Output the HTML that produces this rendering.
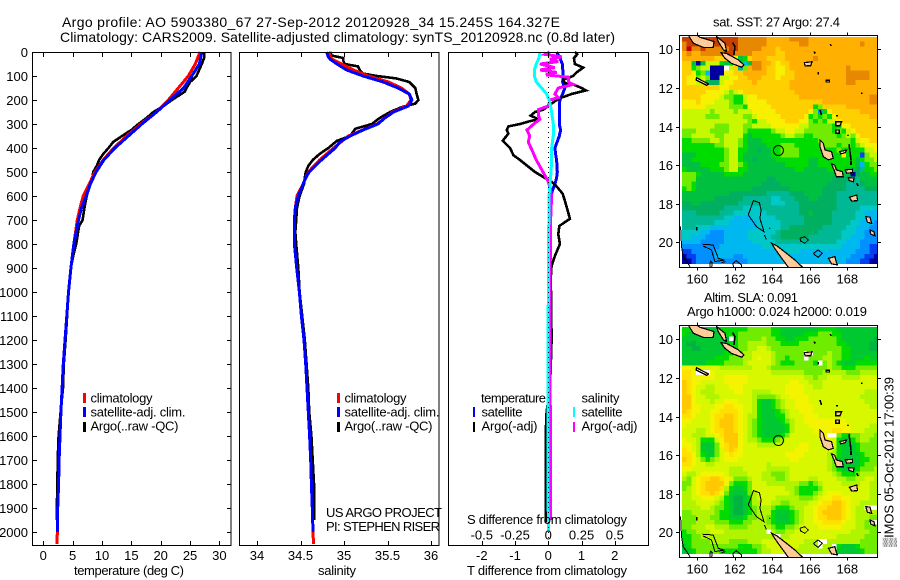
<!DOCTYPE html>
<html>
<head>
<meta charset="utf-8">
<title>Argo profile</title>
<style>
html,body{margin:0;padding:0;background:#fff;}
svg{display:block;}
text{font-family:"Liberation Sans",sans-serif;font-size:13px;fill:#000;}
.t{font-size:14px;}
</style>
</head>
<body>
<svg id="fig" width="900" height="580" viewBox="0 0 900 580" xmlns="http://www.w3.org/2000/svg" shape-rendering="crispEdges">
<defs>
<clipPath id="clipA"><rect x="680" y="35" width="197.5" height="232"/></clipPath>
<clipPath id="clipB"><rect x="680" y="325" width="197.5" height="232"/></clipPath>
</defs>
<rect width="900" height="580" fill="#fff"/>
<g id="maps"></g>
<g id="panels"></g>
<g id="ticks"></g>
<text class="t" x="62" y="27" textLength="498">Argo profile: AO 5903380_67 27-Sep-2012 20120928_34 15.245S 164.327E</text>
<text class="t" x="60" y="42" textLength="555">Climatology: CARS2009. Satellite-adjusted climatology: synTS_20120928.nc (0.8d later)</text>
<text x="74" y="575" textLength="110">temperature (deg C)</text>
<text x="318" y="575" textLength="38">salinity</text>
<text x="467" y="575" textLength="160">T difference from climatology</text>
<text x="467" y="524" textLength="160">S difference from climatology</text>
<text x="90.5" y="402.5" textLength="62">climatology</text>
<text x="90.5" y="416.5" textLength="95">satellite-adj. clim.</text>
<text x="90.5" y="430.5" textLength="88">Argo(..raw -QC)</text>
<text x="344.5" y="402.5" textLength="62">climatology</text>
<text x="344.5" y="416.5" textLength="95">satellite-adj. clim.</text>
<text x="344.5" y="430.5" textLength="88">Argo(..raw -QC)</text>
<text x="326" y="517" textLength="116">US ARGO PROJECT</text>
<text x="326" y="531" textLength="114">PI: STEPHEN RISER</text>
<text x="481" y="402.5" textLength="65">temperature</text>
<text x="581.5" y="402.5" textLength="38">salinity</text>
<text x="481.5" y="416.5" textLength="41">satellite</text>
<text x="481.5" y="430.5" textLength="56">Argo(-adj)</text>
<text x="581.5" y="416.5" textLength="41">satellite</text>
<text x="581.5" y="430.5" textLength="56">Argo(-adj)</text>
<rect x="83" y="393" width="3" height="10" fill="#f00"/>
<rect x="83" y="407" width="3" height="10" fill="#00f"/>
<rect x="83" y="422" width="3" height="10" fill="#000"/>
<rect x="337" y="393" width="3" height="10" fill="#f00"/>
<rect x="337" y="407" width="3" height="10" fill="#00f"/>
<rect x="337" y="422" width="3" height="10" fill="#000"/>
<rect x="473" y="407" width="2" height="10" fill="#00f"/>
<rect x="473" y="422" width="2" height="10" fill="#000"/>
<rect x="573" y="407" width="2" height="10" fill="#0ff"/>
<rect x="573" y="422" width="2" height="10" fill="#f0f"/>
<text x="713" y="26.5" textLength="127">sat. SST: 27 Argo: 27.4</text>
<text x="704" y="302" textLength="94">Altim. SLA: 0.091</text>
<text x="687" y="316" textLength="180">Argo h1000: 0.024 h2000: 0.019</text>
<text transform="translate(893.5,547) rotate(-90)" textLength="170">▒IMOS 05-Oct-2012 17:00:39</text>
</svg>
<script>
// ---------- depth axis ticks ----------
var depthTicks=[0,100,200,300,400,500,600,700,800,900,1000,1100,1200,1300,1400,1500,1600,1700,1800,1900,2000];
var tempTicks=[0,5,10,15,20,25,30];
var salTicks=[34,34.5,35,35.5,36];
var salTickLabels=["34","34.5","35","35.5","36"];
var tDiffTicks=[-2,-1,0,1,2];
var sDiffTicks=[-0.5,-0.25,0,0.25,0.5];
var sDiffTickLabels=["-0.5","-0.25","0","0.25","0.5"];
var lonTicks=[160,162,164,166,168];
var latTicks=[-10,-12,-14,-16,-18,-20];
// ---------- temperature profiles ----------
var tempClimDepth=[0,50,100,150,200,250,300,350,400,450,500,550,600,650,700,800,900,1000,1100,1200,1300,1400,1500,1600,1700,1800,1900,2000,2050];
var tempClim=[26.7,25.9,24.7,23,21.3,19.3,16.6,14.2,12,10.2,8.8,7.8,6.8,6.25,5.8,5.2,4.7,4.3,4,3.7,3.4,3.2,3,2.85,2.7,2.6,2.45,2.4,2.3];
var tempSatDepth=[0,50,100,150,200,250,300,350,400,450,500,550,600,650,700,750,800,900,1000,1100,1200,1300,1400,1500,1600,1700,1800,1900,2000];
var tempSat=[27,26.6,25.3,23.9,21.6,19.3,16.8,14.5,12.2,10.3,9,8,7.3,6.5,6,5.6,5.2,4.7,4.3,4,3.7,3.4,3.2,3,2.85,2.7,2.6,2.45,2.4];
var tempArgoDepth=[0,25,50,100,125,150,165,200,225,250,275,300,325,350,375,400,425,450,475,500,525,550,600,650,700,725,800,850,900,1000,1100,1200,1300,1400,1500,1600,1700,1800,1900,1950];
var tempArgo=[27.4,27.4,27,26.1,25,24.4,24.1,21.9,20.5,18.75,17.6,16.2,15,13.4,11.9,11.1,10.2,9.5,9.1,8.5,8.35,8,7.4,7,6.7,6.1,5.6,5.1,4.7,4.3,4.05,3.8,3.5,3.35,2.95,2.6,2.45,2.4,2.3,2.3];
// ---------- salinity profiles ----------
var salClimDepth=[0,30,50,75,100,125,150,175,200,225,250,300,350,400,450,500,550,600,650,700,800,900,1000,1100,1200,1300,1400,1500,1600,1700,1800,1900,2000,2050];
var salClim=[34.82,34.86,34.97,35.11,35.28,35.51,35.66,35.75,35.77,35.72,35.56,35.38,35.05,34.88,34.72,34.59,34.53,34.46,34.44,34.43,34.43,34.456,34.487,34.51,34.54,34.56,34.575,34.59,34.605,34.617,34.625,34.636,34.644,34.65];
var salSatDepth=[0,20,30,50,75,100,125,150,175,200,225,250,275,300,325,350,375,400,425,450,475,500,525,550,600,650,700,800,900,1000,1100,1200,1300,1400,1500,1600,1700,1800,1900,2000];
var salSat=[34.8,34.82,34.84,34.92,35.03,35.22,35.45,35.62,35.75,35.78,35.74,35.57,35.47,35.39,35.22,35.07,34.95,34.9,34.82,34.74,34.67,34.6,34.56,34.53,34.475,34.44,34.43,34.43,34.456,34.487,34.51,34.54,34.56,34.575,34.59,34.605,34.617,34.625,34.636,34.644];
var salArgoDepth=[0,15,25,35,50,60,75,90,100,110,125,150,175,200,215,230,250,275,300,320,350,370,400,425,450,475,500,525,550,600,650,700,750,800,900,1000,1200,1400,1500,1600,1700,1800,1900,1950];
var salArgo=[34.84,34.86,34.99,34.99,35.01,35.16,35.18,35.22,35.38,35.6,35.75,35.82,35.835,35.855,35.82,35.66,35.53,35.41,35.32,35.13,35.07,34.92,34.82,34.72,34.64,34.59,34.56,34.55,34.54,34.49,34.46,34.45,34.44,34.45,34.475,34.49,34.55,34.59,34.6,34.625,34.64,34.655,34.655,34.655];
// ---------- difference profiles ----------
var tDiffSatDepth=[0,25,50,100,125,150,175,200,225,300,325,350,400,425,450,500,525,550,575,600,700,800,900,1000,2000];
var tDiffSat=[0.25,0.35,0.42,0.45,0.43,0.5,0.43,0.35,0.33,0.33,0.37,0.33,0.2,0.22,0.25,0.27,0.25,0.2,0.13,0.08,0.05,0.03,0.02,0.01,0];
var tDiffArgoDepth=[0,10,25,50,65,85,100,115,130,135,150,160,175,190,205,225,240,250,265,280,290,300,310,325,340,370,400,430,450,500,525,540,560,590,620,670,695,725,760,800,850,890,950,1000,1200,1400,1500,1600,1700,1960];
var tDiffArgo=[0.8,0.87,0.77,0.8,1.05,0.85,0.75,0.45,0.5,0.75,1,1.13,0.7,0.4,0.2,0,-0.15,-0.4,-0.53,-0.3,-0.6,-0.85,-1.2,-1.25,-1.2,-1.37,-1.15,-1.05,-0.85,-0.4,-0.1,0.1,0.25,0.43,0.5,0.6,0.65,0.33,0.3,0.35,0.2,0.1,0.07,0.08,0.1,0.05,-0.05,-0.08,-0.08,-0.08];
var sDiffSatDepth=[0,25,50,75,100,125,150,175,200,225,250,300,350,400,450,500,550,600,800,1000,1400,2000];
var sDiffSat=[-0.0625,-0.07,-0.09,-0.105,-0.105,-0.09,-0.05,-0.0125,0.005,0.0175,0.025,0.0375,0.0375,0.025,0.025,0.02,0.0125,0.005,0.0025,0,-0.0025,0];
var sDiffArgoDepth=[0,10,20,30,40,50,65,75,85,95,105,125,135,150,175,190,200,225,240,265,280,300,325,350,375,400,425,450,500,540,575,600,700,1000,1300,1700,1950];
var sDiffArgo=[0.01,-0.025,0.1,0.0125,0.075,-0.0625,0.05,-0.0625,0.0625,-0.0175,0.15,0.15,0.1875,0.075,0.05,0.075,0.0125,0,-0.075,-0.075,-0.0625,-0.11,-0.16,-0.14,-0.15,-0.13,-0.11,-0.09,-0.04,0,0.0175,0.025,0.0175,0.0125,0.0125,0.0175,0.0175];
// ---------- Argo position ----------
var argoLon=164.327;
var argoLat=-15.245;
// ---------- SST colour classes (0 coldest ... 16 warmest, 17 no data) ----------
var sstColours=["#0000a0","#0040f0","#0090ff","#00b8f0","#00c8c8","#00b894","#00b060","#00c040","#00dc00","#70ec00","#c8f800","#f8f000","#ffd000","#ffb000","#e88800","#c84000","#c00000","#ffffff"];
var sstRows=[
[15,15,15,15,15,15,15,15,15,15,15,15,14,14,14,14,14,14,13,13,13,13,13,14,14,14,14,13,13,13,13,13,13,13,13,13,13,13,13,13,13,13],
[14,15,15,15,15,15,15,15,15,15,15,15,14,14,14,14,14,14,13,13,13,13,13,13,13,14,14,13,13,13,13,13,13,13,13,13,13,13,14,13,13,13],
[14,16,14,14,15,14,14,14,14,14,15,15,14,14,14,14,14,13,13,13,12,13,13,13,13,13,13,13,13,13,13,13,13,13,13,13,13,13,13,13,13,13],
[13,14,13,13,14,14,14,14,14,15,15,14,14,14,14,13,13,13,13,13,12,12,13,13,13,13,13,13,13,13,13,13,13,13,13,13,13,13,13,13,13,13],
[13,13,13,13,13,13,13,12,12,12,11,11,7,8,12,13,13,13,12,12,12,12,13,13,13,13,13,13,14,13,13,13,13,13,13,13,13,13,13,13,13,13],
[12,12,7,0,7,10,10,10,8,7,8,10,8,3,7,14,14,13,13,12,11,12,12,13,13,13,13,13,13,13,13,13,13,13,13,13,13,13,13,13,13,13],
[12,12,8,9,10,10,0,0,0,17,10,12,5,9,13,14,14,13,12,12,11,11,12,13,13,13,13,13,13,13,13,13,13,13,13,14,13,13,13,13,13,13],
[12,12,11,8,9,3,0,0,0,11,11,12,12,13,13,13,13,13,12,12,11,11,12,12,13,13,13,13,13,13,13,13,13,13,13,14,14,14,14,14,13,13],
[12,11,11,9,10,9,0,0,10,10,11,11,12,12,13,13,13,12,12,12,11,12,12,12,13,13,13,13,13,13,13,13,13,13,13,14,14,14,14,14,13,13],
[12,11,11,10,10,7,6,6,10,11,11,12,12,12,12,13,12,12,12,12,12,12,12,13,13,13,13,13,13,13,13,13,13,13,13,14,14,13,13,13,13,13],
[12,12,12,12,12,12,12,12,11,11,12,12,12,12,12,12,12,12,12,12,12,12,12,13,13,13,13,13,13,13,13,13,13,13,13,13,13,13,13,13,13,13],
[12,12,12,12,12,11,11,11,11,10,9,10,11,12,12,12,12,12,12,12,12,12,12,12,13,13,13,13,13,13,13,13,13,13,13,13,13,13,13,13,13,13],
[12,12,12,12,11,11,11,11,10,9,9,8,8,10,11,11,12,12,12,12,12,12,12,12,12,13,13,13,13,13,13,13,13,13,13,13,13,13,13,13,14,14],
[11,11,11,12,11,11,11,10,10,10,9,8,8,10,11,11,11,11,12,12,12,12,12,12,12,12,12,12,12,12,13,13,13,13,13,13,13,13,13,13,14,14],
[11,11,11,11,11,10,10,10,10,10,9,9,9,8,11,11,11,11,11,12,12,12,12,12,12,12,12,12,8,9,12,12,12,12,12,13,13,13,13,13,13,13],
[10,10,10,10,10,10,9,10,10,10,10,9,10,10,10,11,11,11,11,11,12,12,12,12,12,12,12,11,9,2,8,11,12,12,12,12,12,12,13,13,13,13],
[10,10,10,10,10,9,9,9,10,10,10,10,10,9,9,10,11,11,11,11,11,12,12,12,12,12,11,8,9,8,9,8,11,12,12,12,12,12,12,12,13,13],
[10,10,10,10,10,10,10,10,10,10,10,10,10,10,9,8,10,10,11,11,11,11,12,12,12,11,11,9,8,9,8,10,10,11,12,12,12,12,12,12,12,12],
[10,10,10,10,10,10,10,9,9,9,10,10,10,9,9,10,10,10,10,11,11,11,11,11,11,10,10,9,9,9,9,9,8,8,11,11,12,12,12,12,12,12],
[9,9,9,10,10,10,9,9,9,9,10,10,10,9,8,8,8,8,8,9,10,10,11,11,10,10,9,9,9,9,9,9,8,9,8,10,11,12,12,12,12,12],
[9,9,10,10,10,10,10,9,9,10,10,10,10,8,7,8,8,8,8,8,8,9,10,10,9,9,8,8,9,9,9,9,9,8,9,10,9,11,12,12,12,12],
[8,8,9,9,9,9,10,10,9,10,10,10,9,8,7,7,7,8,8,8,8,8,8,8,8,8,8,8,8,9,9,9,9,9,9,9,8,10,11,11,12,12],
[8,8,8,8,8,8,8,9,9,10,10,10,9,8,7,7,7,7,8,8,8,9,9,9,8,8,8,8,8,8,9,9,9,8,9,9,8,9,10,11,11,11],
[8,8,8,8,8,8,8,8,8,9,10,10,8,8,7,7,6,7,7,8,8,9,9,9,9,8,8,8,8,8,8,8,8,9,8,8,8,8,8,10,10,11],
[7,7,7,8,8,8,8,8,8,9,10,10,8,7,7,7,7,7,7,8,8,9,9,9,9,8,8,8,8,8,8,8,8,8,11,8,8,8,1,9,10,10],
[7,7,8,8,8,8,8,8,8,9,10,10,8,7,7,6,7,7,7,7,8,8,8,8,8,8,8,7,7,8,8,8,8,8,8,8,8,7,8,9,9,10],
[7,7,7,7,8,8,8,8,9,9,10,10,9,8,7,7,7,7,7,7,7,7,8,8,8,8,8,7,7,8,8,8,8,8,8,8,8,7,3,8,9,9],
[8,7,7,7,7,7,8,8,8,9,10,10,8,8,7,7,7,7,7,7,7,7,7,7,8,8,7,7,7,7,7,8,8,8,8,7,7,6,5,8,8,9],
[9,9,9,8,7,7,7,7,7,8,8,8,8,7,7,7,7,7,7,7,7,7,7,7,7,7,7,7,7,7,7,7,7,7,7,7,0,6,7,7,8,8],
[9,9,9,7,7,7,7,7,7,7,7,7,7,7,7,7,7,7,6,6,7,7,7,7,7,7,7,7,7,7,7,7,6,6,6,6,6,5,7,7,7,7],
[9,9,8,7,7,7,7,7,7,7,7,7,7,7,7,7,7,6,6,6,6,7,7,7,7,7,7,7,7,7,7,6,6,6,6,5,5,5,6,7,7,7],
[8,9,8,7,7,7,7,7,7,7,7,7,7,7,7,6,6,6,6,6,6,6,6,7,7,7,7,7,7,7,6,6,6,6,6,5,5,5,5,6,6,6],
[7,7,7,7,7,7,7,7,7,7,6,6,6,6,6,6,6,6,5,5,5,5,5,6,6,6,7,7,7,7,6,6,6,5,5,5,5,5,5,5,5,5],
[7,7,7,7,7,7,7,6,6,6,6,6,6,5,5,5,5,5,5,4,4,5,5,5,6,6,6,7,7,6,6,6,6,5,5,5,5,5,5,5,5,5],
[6,6,7,7,6,6,6,6,6,6,6,6,5,5,5,5,5,5,5,4,4,4,5,5,5,6,6,6,6,6,6,6,6,5,5,5,5,5,5,5,5,5],
[6,6,6,6,6,6,6,6,6,5,5,5,5,4,4,4,4,5,5,5,5,5,5,5,5,6,6,6,6,6,6,6,6,5,5,5,5,5,4,4,4,4],
[5,5,5,6,6,6,6,6,5,5,5,4,4,4,4,4,4,4,5,5,5,5,5,5,5,6,6,7,6,6,6,6,5,5,5,5,5,4,4,3,3,3],
[5,5,5,5,5,5,5,5,5,4,4,3,3,3,3,4,4,4,4,4,5,5,5,5,5,5,6,6,6,6,6,6,5,5,5,5,5,4,4,3,3,3],
[5,5,5,5,5,5,5,4,4,4,3,3,3,3,3,3,4,4,4,4,4,5,5,5,5,5,6,6,6,6,6,6,5,5,5,5,4,4,3,3,3,2],
[5,5,5,4,4,4,3,3,3,3,3,3,3,3,3,3,4,4,4,4,4,5,5,6,6,6,6,6,6,6,5,5,5,5,5,4,4,3,3,3,2,2],
[4,4,4,4,3,3,2,2,2,3,3,3,3,3,4,4,4,4,4,4,5,6,6,6,6,6,6,6,6,5,5,5,5,5,4,4,4,3,3,2,2,2],
[4,4,3,3,3,2,2,2,2,3,3,3,3,3,4,4,4,4,4,5,5,6,6,6,6,6,6,5,5,5,5,5,5,5,4,4,3,3,3,2,2,2],
[3,3,3,3,2,2,2,2,2,3,3,3,3,3,3,4,4,4,4,4,5,5,5,5,5,5,5,5,5,5,5,5,5,4,4,3,3,3,2,2,2,2],
[2,2,2,2,2,2,2,2,3,3,3,3,3,3,3,3,3,4,4,4,4,4,4,4,4,4,4,4,4,4,4,4,4,4,3,3,3,3,2,2,1,1],
[1,1,2,2,2,2,2,3,3,3,3,3,3,3,3,3,3,3,3,3,3,3,4,4,4,3,3,3,3,3,3,3,3,3,3,3,3,2,2,2,1,1],
[0,1,1,2,2,2,2,3,3,3,3,2,2,3,3,3,3,3,3,3,3,3,3,3,3,3,3,3,3,3,3,3,3,3,3,3,2,2,2,1,1,0],
[0,0,1,2,2,2,2,2,2,2,2,2,2,2,3,3,3,3,3,3,3,3,3,3,3,3,3,3,3,3,3,3,3,3,3,2,2,2,1,1,0,0]
];
// ---------- SLA colour classes (0 lowest ... 8 highest, 9 no data) ----------
var slaColours=["#00b440","#00c830","#00dc00","#70ec00","#b0f400","#d8f800","#f4f400","#ffe000","#ffc800","#ffffff"];
var slaRows=[
[2,2,1,1,1,1,1,1,2,2,2,2,2,2,3,3,3,3,3,2,2,1,1,1,1,1,1,1,1,2,2,2,2,1,1,1,1,1,1,1,1,1],
[2,1,1,1,1,1,1,1,1,2,2,2,3,3,3,3,3,3,3,2,2,1,1,1,1,1,2,2,2,3,3,3,2,2,1,1,1,1,1,1,1,1],
[1,1,1,1,1,1,1,1,1,0,9,2,3,3,3,3,3,4,3,3,2,2,1,1,2,2,2,3,3,3,3,3,3,2,1,1,1,1,1,1,1,0],
[1,0,0,1,1,1,1,1,1,1,2,2,3,3,4,4,4,4,3,3,3,2,2,2,2,3,3,3,3,3,3,3,3,2,2,1,1,1,1,1,0,0],
[1,1,0,0,1,1,1,1,1,1,2,2,3,3,4,4,5,5,4,3,3,3,3,3,3,3,3,3,3,3,3,3,3,3,2,2,1,1,1,1,0,0],
[1,1,1,1,1,1,1,1,1,2,2,3,3,4,4,5,5,5,5,4,3,3,3,3,3,3,9,9,3,3,3,4,3,3,2,2,1,1,1,1,1,1],
[1,1,1,1,1,1,1,2,2,2,3,3,3,4,4,5,6,5,5,4,3,3,2,3,3,3,9,3,3,3,4,4,3,3,2,2,1,1,1,2,1,1],
[1,1,1,1,1,2,2,2,2,3,3,3,3,4,5,5,5,5,5,4,3,2,2,2,3,3,3,3,2,9,3,4,3,2,1,1,1,2,2,2,2,2],
[6,6,5,5,5,5,5,5,4,4,4,4,4,4,4,5,5,5,4,3,3,3,3,3,3,3,3,3,3,3,3,4,3,3,2,2,2,3,3,3,3,3],
[7,7,6,9,9,9,6,5,5,5,5,5,5,5,5,5,5,5,5,4,4,4,4,4,4,4,3,3,3,3,4,4,4,4,4,3,3,3,4,4,4,4],
[7,7,6,6,6,6,6,5,5,6,6,6,6,6,5,5,5,5,5,5,5,5,5,5,5,5,4,4,3,4,4,5,5,5,4,4,4,4,5,5,5,5],
[8,7,6,6,5,5,5,5,5,6,6,6,6,6,5,5,5,5,5,5,5,5,5,6,6,5,5,4,4,4,5,5,5,5,5,5,5,5,5,5,5,5],
[8,7,6,5,5,4,4,5,5,5,6,6,6,5,5,5,5,5,5,5,5,5,6,6,6,6,5,5,4,4,5,5,5,5,5,5,5,5,5,5,5,5],
[8,7,6,5,4,4,4,5,5,5,5,6,6,5,5,4,4,4,4,5,5,5,6,6,6,6,5,5,5,5,5,5,5,5,5,5,5,5,5,4,4,4],
[8,8,6,5,5,4,4,4,5,5,5,5,5,5,5,4,3,3,3,3,4,5,5,6,6,6,6,5,5,5,5,5,5,5,5,5,5,5,4,4,4,4],
[8,8,6,5,5,5,4,5,5,6,6,6,5,5,5,4,2,1,1,2,3,4,5,5,6,6,6,5,5,5,5,5,5,5,5,5,5,5,5,4,4,4],
[8,8,6,6,5,5,5,6,6,7,7,6,6,5,5,4,2,1,1,2,3,4,5,5,6,6,6,6,5,5,5,5,5,5,5,5,5,5,5,5,4,4],
[8,7,6,6,5,5,6,6,7,7,7,7,6,5,5,4,2,1,1,1,2,3,4,5,5,6,6,6,5,5,5,5,5,5,5,5,5,5,5,5,5,5],
[7,7,6,5,5,5,6,7,7,8,8,7,6,5,4,4,2,1,1,1,2,2,4,5,5,5,6,6,6,5,5,5,5,5,5,5,5,5,5,5,5,5],
[6,6,5,5,5,5,6,7,8,8,8,7,6,5,4,3,2,1,1,1,1,2,3,4,5,5,6,6,6,6,6,6,6,6,6,5,5,5,5,5,5,5],
[6,5,5,5,5,5,6,7,8,8,8,7,6,5,4,3,2,1,1,1,1,1,2,4,5,5,5,6,6,6,6,6,6,6,6,6,5,5,5,5,4,4],
[5,5,5,4,4,5,6,7,7,8,8,7,6,5,4,3,2,1,1,1,1,1,2,4,5,5,5,5,6,6,6,6,7,7,6,6,5,5,5,4,4,4],
[5,5,4,4,4,5,5,6,7,8,8,8,6,5,4,3,2,1,1,1,1,2,3,5,5,5,5,5,5,6,6,9,9,3,2,2,3,3,4,4,4,3],
[6,5,5,4,2,2,2,5,6,8,8,8,6,5,4,4,3,2,2,2,3,4,5,5,5,5,5,5,5,5,6,6,5,2,1,1,2,3,4,4,3,3],
[6,6,5,4,1,1,1,3,6,7,8,8,6,5,5,5,4,4,4,4,5,5,5,5,5,6,6,5,5,5,5,5,5,2,1,1,1,2,3,3,3,3],
[7,6,5,4,1,1,1,3,5,7,8,7,6,5,5,5,5,5,5,5,5,5,5,5,6,6,6,5,5,5,5,5,4,2,1,1,1,2,3,3,3,3],
[7,7,6,4,2,1,1,3,5,6,7,6,6,5,5,5,5,5,5,5,5,5,6,6,6,6,5,5,5,5,5,4,4,2,1,1,1,1,2,3,3,3],
[8,7,6,5,3,2,3,4,5,6,6,6,5,5,5,5,5,5,5,5,5,5,5,6,6,5,5,5,5,5,5,4,3,1,1,1,1,1,2,2,3,3],
[7,7,6,5,5,4,4,5,5,5,5,5,5,5,5,5,5,5,4,5,5,5,5,5,5,5,5,5,5,5,5,4,3,1,1,1,1,1,2,3,3,3],
[6,6,5,5,5,5,5,5,5,5,4,4,4,5,5,5,5,5,4,4,4,4,4,5,5,5,5,5,5,5,5,4,3,2,1,1,1,2,3,3,3,4],
[5,4,4,5,6,6,6,6,6,5,4,4,4,4,5,5,5,4,4,3,3,3,4,5,5,5,5,5,5,5,5,5,4,3,2,2,2,3,4,4,4,4],
[4,3,5,6,7,7,8,8,7,6,5,3,3,3,4,5,5,4,4,4,3,3,4,5,5,5,5,4,4,5,5,5,5,4,4,3,3,4,4,5,5,4],
[3,3,5,6,7,8,8,8,8,6,3,2,2,2,3,5,5,5,4,4,4,4,4,4,4,3,3,2,3,4,5,5,5,5,4,4,4,4,5,5,4,4],
[3,4,5,6,7,8,8,8,7,4,2,1,1,2,3,5,5,5,5,5,5,5,4,4,3,2,2,2,2,3,5,5,5,5,5,5,5,5,5,5,4,4],
[4,4,5,6,7,7,8,7,6,3,1,1,1,1,3,4,5,5,5,5,5,5,5,4,3,2,2,2,3,4,5,6,6,6,5,5,5,5,5,5,4,4],
[4,4,5,5,6,6,6,5,4,2,1,0,0,1,2,4,5,5,5,5,4,4,4,4,4,3,3,3,4,5,6,6,7,7,6,6,5,5,5,5,4,4],
[4,4,4,5,5,5,5,4,3,2,1,0,0,1,2,4,4,5,5,4,4,3,3,4,4,4,4,5,5,6,7,7,8,8,7,6,5,5,4,4,4,4],
[4,4,4,4,5,5,4,3,3,2,1,0,0,1,2,3,4,4,4,3,2,2,2,3,4,4,5,5,6,7,7,8,8,8,7,6,5,4,4,9,9,9],
[3,3,4,4,4,4,4,3,2,2,1,0,0,1,2,3,4,4,4,2,1,1,1,2,3,4,5,5,6,7,8,8,8,8,7,6,5,4,4,4,4,4],
[3,3,3,4,4,4,3,3,2,2,1,1,1,2,3,3,4,4,3,2,1,1,1,2,3,4,5,5,6,7,7,8,8,8,7,6,5,4,4,4,3,3],
[3,3,3,4,4,4,4,3,3,3,2,2,2,3,3,4,4,4,3,2,1,1,1,2,3,4,5,5,6,6,7,7,7,7,6,5,5,4,4,3,9,9],
[3,3,4,4,4,5,5,4,4,4,3,3,3,3,4,4,4,4,4,3,2,2,3,3,4,5,5,5,5,6,6,6,6,6,5,5,5,4,4,3,3,3],
[2,3,3,4,4,4,5,5,5,4,4,4,4,4,4,4,4,4,9,4,3,3,4,4,5,5,5,5,5,5,5,5,5,5,5,5,4,4,4,4,3,3],
[2,2,3,3,4,4,4,4,4,4,4,4,4,4,4,4,4,4,4,4,9,4,4,5,5,5,5,5,5,5,5,5,5,4,4,4,4,4,4,3,3,3],
[2,2,3,3,3,3,4,4,4,4,3,3,3,3,4,4,4,5,5,5,5,5,5,5,5,5,4,4,4,9,9,4,4,4,4,4,4,4,3,3,3,3],
[1,2,3,3,3,3,3,3,3,3,3,3,2,2,2,3,3,4,5,5,5,5,5,5,5,4,4,4,4,9,4,4,9,2,1,1,1,2,3,3,3,3],
[1,1,2,3,3,3,3,3,2,2,2,2,2,2,2,2,3,4,4,5,5,5,5,5,4,4,4,4,4,4,4,4,9,1,1,1,1,1,2,3,3,3]
];
// ---------- coastlines as [lon,lat] vertices: filled land ----------
var landShapes=[
[[159.57,-9.34],[159.79,-9.69],[160.32,-9.9],[160.85,-9.9],[160.89,-9.6],[160.5,-9.48],[160.14,-9.38],[159.9,-9.2],[159.5,-9.2]],
[[161.03,-9.34],[161.48,-9.69],[161.56,-10.12],[161.39,-10.03],[161.12,-9.6]],
[[161.26,-10.17],[161.56,-10.21],[162.19,-10.55],[162.49,-10.81],[162.36,-10.93],[161.83,-10.73],[161.48,-10.47]],
[[159.96,-11.47],[160.59,-11.8],[160.5,-11.87],[159.93,-11.59]],
[[165.71,-10.69],[166.12,-10.64],[166.05,-10.85],[165.75,-10.86]],
[[166.86,-11.6],[167.05,-11.6],[167.05,-11.7],[166.86,-11.7]],
[[167.38,-13.75],[167.7,-13.75],[167.61,-13.96],[167.38,-13.96]],
[[167.38,-14.18],[167.57,-14.18],[167.57,-14.35],[167.38,-14.35]],
[[166.54,-14.7],[166.72,-14.87],[166.81,-15.22],[167.16,-15.3],[167.25,-15.65],[166.99,-15.73],[166.72,-15.56],[166.54,-15.04]],
[[167.6,-15.3],[167.95,-15.22],[167.9,-15.36],[167.65,-15.42]],
[[167.16,-15.94],[167.33,-16],[167.42,-16.25],[167.74,-16.34],[167.78,-16.6],[167.42,-16.6],[167.29,-16.25]],
[[167.88,-16.25],[168.28,-16.22],[168.28,-16.39],[167.97,-16.42]],
[[168.05,-16.65],[168.36,-16.68],[168.32,-16.86],[168.1,-16.8]],
[[168.11,-17.67],[168.5,-17.55],[168.55,-17.84],[168.23,-17.86]],
[[168.98,-18.67],[169.21,-18.7],[169.3,-19.02],[169.07,-18.96]],
[[169.21,-19.36],[169.42,-19.45],[169.48,-19.67],[169.24,-19.57]],
[[163.96,-20.05],[164.23,-20.17],[164.76,-20.57],[165.21,-20.92],[165.62,-21.3],[164.94,-21.4],[164.5,-20.83],[164.14,-20.33]],
[[166.99,-20.83],[167.34,-20.74],[167.4,-21],[167.47,-21.17],[167.17,-21.12]]
];
// ---------- coastlines: reef and outline-only shapes ----------
var reefShapes=[
[[165.48,-19.79],[165.74,-19.71],[165.92,-19.88],[165.74,-20.05],[165.51,-19.93],[165.48,-19.79]],
[[166.19,-20.57],[166.45,-20.4],[166.67,-20.57],[166.45,-20.78],[166.28,-20.66],[166.19,-20.57]],
[[162.72,-18.58],[162.99,-17.84],[163.31,-17.95],[163.4,-18.32],[163.34,-18.76],[163.56,-19.45],[163.16,-19.19],[162.72,-18.58]],
[[160.27,-20.1],[160.85,-20.14],[161.12,-20.83],[161.44,-20.92],[160.94,-21],[160.76,-20.4],[160.32,-20.19]],
[[159.11,-19.19],[159.16,-20.22],[159.25,-20.74],[159.61,-21.26]],
[[160.65,-21.4],[160.7,-20.98],[160.8,-21.05],[160.75,-21.4]],
[[162.06,-20.95],[162.36,-21.17],[162.35,-21.4],[161.95,-21.4],[161.9,-21.1],[162.06,-20.95]],
[[161.3,-21.05],[161.5,-21]],
[[163.58,-19.62],[163.68,-19.85]],
[[163.85,-19.25],[163.88,-19.3]]
];
// ---------- coastlines: thin thick-stroked islets ----------
var isletShapes=[
[[161.88,-9.65],[162.01,-9.86],[161.95,-10.29]],
[[159.96,-19.2],[159.96,-19.4]],
[[166.22,-10.12],[166.3,-10.22]],
[[166.45,-11.17],[166.45,-11.3]],
[[167.08,-9.74],[167.16,-9.82]],
[[168.72,-12.28],[168.82,-12.28]],
[[166.54,-13.14],[166.63,-13.4]],
[[167.4,-13.45],[167.5,-13.45]],
[[168.02,-14.42],[168.06,-14.48]],
[[168.09,-14.92],[168.2,-15.73]],
[[168.2,-15.77],[168.2,-16]],
[[168.5,-16.94],[168.58,-17.08]]
];
// ---------- axis functions ----------
function depthY(d){return 52+0.24*d;}
function tempX(t){return 43.3+5.87*t;}
function salX(s){return 257+87*(s-34);}
function tDiffX(t){return 548.3+33.25*t;}
function sDiffX(s){return 548.3+133*s;}
function mapX(lon){return 697.3+(lon-160)*18.75;}
function mapY(lat,y10){return y10+(-10-lat)*19.3;}
var sstY10=49.3;
var slaY10=339.3;
var NS="http://www.w3.org/2000/svg";
function el(tag,parent){var e=document.createElementNS(NS,tag);parent.appendChild(e);return e;}
function ptsOf(xs,ys,fx,fy){var a=[];for(var i=0;i<xs.length;i++){a.push(fx(xs[i]).toFixed(1)+","+fy(ys[i]).toFixed(1));}return a.join(" ");}

var panels=document.getElementById("panels");
var tickLayer=document.getElementById("ticks");
var maps=document.getElementById("maps");

function drawProfile(xs,ds,fx,colour,width,name){
  var p=el("polyline",panels);
  p.setAttribute("points",ptsOf(xs,ds,fx,depthY));
  p.setAttribute("fill","none");
  p.setAttribute("stroke",colour);
  p.setAttribute("stroke-width",width);
  
  
}
function frame(x,y,w,h,name,parent){
  var r=el("rect",parent);
  r.setAttribute("x",x);r.setAttribute("y",y);r.setAttribute("width",w);r.setAttribute("height",h);
  r.setAttribute("fill","none");r.setAttribute("stroke","#000");r.setAttribute("stroke-width",1);
  
  
}
function tick(x1,y1,x2,y2){
  var l=el("line",tickLayer);
  l.setAttribute("x1",x1);l.setAttribute("y1",y1);l.setAttribute("x2",x2);l.setAttribute("y2",y2);
  l.setAttribute("stroke","#000");l.setAttribute("stroke-width",1);
  
  
}
function label(str,x,y,anchor){
  var t=el("text",tickLayer);
  t.setAttribute("x",x);t.setAttribute("y",y);t.setAttribute("text-anchor",anchor);
  t.textContent=str;
  
  
}

// Profile panels: lines
drawProfile(tempArgo,tempArgoDepth,tempX,"#000",2.6,"temperature-argo-line");
drawProfile(tempClim,tempClimDepth,tempX,"#f00",3,"temperature-climatology-line");
drawProfile(tempSat,tempSatDepth,tempX,"#00f",3,"temperature-satellite-line");
drawProfile(salArgo,salArgoDepth,salX,"#000",2.6,"salinity-argo-line");
drawProfile(salClim,salClimDepth,salX,"#f00",3,"salinity-climatology-line");
drawProfile(salSat,salSatDepth,salX,"#00f",3,"salinity-satellite-line");
drawProfile(tDiffSat,tDiffSatDepth,tDiffX,"#00f",3,"t-diff-satellite-line");
drawProfile(tDiffArgo,tDiffArgoDepth,tDiffX,"#000",2.6,"t-diff-argo-line");
drawProfile(sDiffArgo,sDiffArgoDepth,sDiffX,"#f0f",3,"s-diff-argo-line");
drawProfile(sDiffSat,sDiffSatDepth,sDiffX,"#0ff",3,"s-diff-satellite-line");

// zero dotted line
var zero=el("line",panels);
zero.setAttribute("x1",tDiffX(0));zero.setAttribute("x2",tDiffX(0));
zero.setAttribute("y1",52);zero.setAttribute("y2",545);
zero.setAttribute("stroke","#000");zero.setAttribute("stroke-dasharray","1 4");



// Frames
frame(32.5,52.5,198.5,493,"temperature-panel-frame",tickLayer);
frame(239.5,52.5,199.5,493,"salinity-panel-frame",tickLayer);
frame(448.5,52.5,200,493,"difference-panel-frame",tickLayer);

// Ticks for panels
depthTicks.forEach(function(d){
  var y=Math.round(depthY(d))+0.5;
  if(d>0){tick(33,y,37,y);tick(227,y,231,y);}
  label(String(d),28,y+4.5,"end");
});
tempTicks.forEach(function(t){
  var x=Math.round(tempX(t))+0.5;
  tick(x,53,x,57);tick(x,541,x,545);
  label(String(t),tempX(t),560,"middle");
});
salTicks.forEach(function(s,i){
  var x=Math.round(salX(s))+0.5;
  tick(x,53,x,57);tick(x,541,x,545);
  label(salTickLabels[i],salX(s),560,"middle");
});
tDiffTicks.forEach(function(t){
  var x=Math.round(tDiffX(t))+0.5;
  tick(x,53,x,57);tick(x,541,x,545);
  label(String(t),tDiffX(t),560,"middle");
});
sDiffTicks.forEach(function(s,i){
  label(sDiffTickLabels[i],sDiffX(s),539.5,"middle");
});

// Maps
function drawMap(rows,colours,y10,clipId,gridName){
  var g=el("g",maps);
  
  
  g.setAttribute("clip-path","url(#"+clipId+")");
  rows.forEach(function(row,r){
    row.forEach(function(v,c){
      var lonL=159.18+0.25*c,latT=-9.35-0.25*r;
      var x0=mapX(lonL),x1=mapX(lonL+0.25),y0=mapY(latT,y10),y1=mapY(latT-0.25,y10);
      var cell=el("rect",g);
      cell.setAttribute("x",x0.toFixed(2));
      cell.setAttribute("y",y0.toFixed(2));
      cell.setAttribute("width",(x1-x0+0.4).toFixed(2));
      cell.setAttribute("height",(y1-y0+0.4).toFixed(2));
      cell.setAttribute("fill",colours[v]);
      
      
    });
  });
  var fy=function(lat){return mapY(lat,y10);};
  landShapes.forEach(function(s){
    var p=el("polygon",g);
    p.setAttribute("points",s.map(function(q){return mapX(q[0]).toFixed(1)+","+fy(q[1]).toFixed(1);}).join(" "));
    p.setAttribute("fill","#ffcc99");p.setAttribute("stroke","#000");p.setAttribute("stroke-width",1.2);
    
    
  });
  reefShapes.forEach(function(s){
    var p=el("polyline",g);
    p.setAttribute("points",s.map(function(q){return mapX(q[0]).toFixed(1)+","+fy(q[1]).toFixed(1);}).join(" "));
    p.setAttribute("fill","none");p.setAttribute("stroke","#000");p.setAttribute("stroke-width",1);
    
    
  });
  isletShapes.forEach(function(s){
    var p=el("polyline",g);
    p.setAttribute("points",s.map(function(q){return mapX(q[0]).toFixed(1)+","+fy(q[1]).toFixed(1);}).join(" "));
    p.setAttribute("fill","none");p.setAttribute("stroke","#000");p.setAttribute("stroke-width",1.6);
    
    
  });
  var c=el("circle",g);
  c.setAttribute("cx",mapX(argoLon));c.setAttribute("cy",fy(argoLat));c.setAttribute("r",5);
  c.setAttribute("fill","none");c.setAttribute("stroke","#000");c.setAttribute("stroke-width",1);
  c.setAttribute("shape-rendering","auto");
  
  
}
drawMap(sstRows,sstColours,sstY10,"clipA","sst-map");
drawMap(slaRows,slaColours,slaY10,"clipB","sla-map");
frame(679.5,35.5,198,232,"sst-map-frame",tickLayer);
frame(679.5,325.5,198,232,"sla-map-frame",tickLayer);

function mapAxes(y10,top,bottom){
  lonTicks.forEach(function(lon){
    var x=Math.round(mapX(lon))+0.5;
    tick(x,top-3,x,top);tick(x,bottom,x,bottom+3);
    label(String(lon),mapX(lon),bottom+16,"middle");
  });
  latTicks.forEach(function(lat){
    var y=Math.round(mapY(lat,y10))+0.5;
    tick(676,y,679,y);tick(878,y,881,y);
    label(String(-lat),673,y+4.5,"end");
  });
}
mapAxes(sstY10,35.5,267.5);
mapAxes(slaY10,325.5,557.5);
</script>
</body>
</html>
